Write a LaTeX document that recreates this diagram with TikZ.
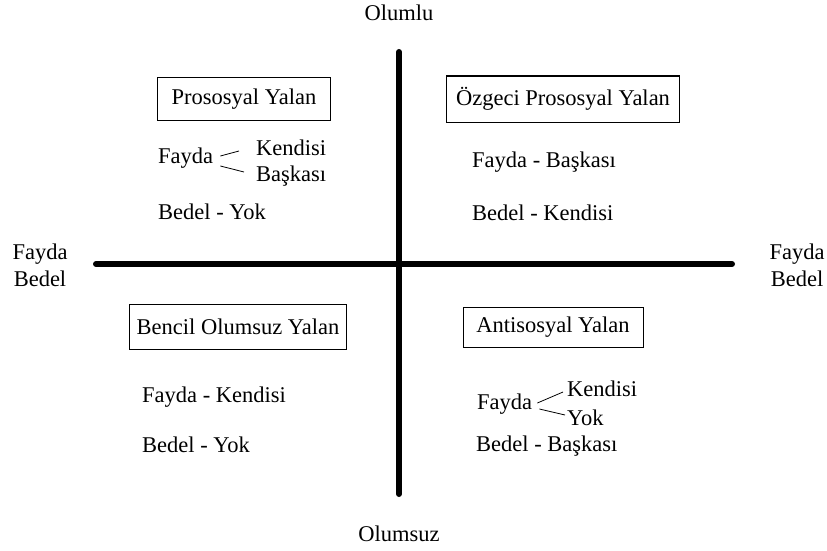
\documentclass[tikz,border=0pt]{standalone}
\usepackage{fontspec}
\setmainfont{Liberation Serif}
\begin{document}
\begin{tikzpicture}[x=1pt,y=-1pt,
  lbl/.style={font=\fontsize{22.5}{27}\selectfont, inner sep=0pt},
  ttl/.style={lbl, draw, line width=1pt},
  axis/.style={line width=6pt, line cap=round},
  br/.style={line width=0.8pt}]
\useasboundingbox (0,0) rectangle (827,551);
\coordinate (vt) at (399,52);
\coordinate (vb) at (399,494);
\coordinate (hl) at (96,264);
\coordinate (hr) at (732,264);
\draw[axis] (vt) -- (vb);
\draw[axis] (hl) -- (hr);
\node[lbl] (olumlu) at (399,13) {Olumlu};
\node[lbl] (olumsuz) at (399,534) {Olumsuz};
\node[lbl, align=center] (left) at (40,265) {Fayda\\Bedel};
\node[lbl, align=center] (right) at (797,265) {Fayda\\Bedel};
% quadrant titles
\node[ttl, minimum width=173pt, minimum height=43pt] (q1) at (244,99) {Prososyal Yalan};
\node[ttl, minimum width=233pt, minimum height=46pt] (q2) at (563,99) {Özgeci Prososyal Yalan};
\node[ttl, minimum width=217pt, minimum height=45pt] (q3) at (238,327) {Bencil Olumsuz Yalan};
\node[ttl, minimum width=180pt, minimum height=40pt] (q4) at (553,327) {Antisosyal Yalan};
% top-left
\node[lbl, anchor=west] (f1) at (158,158) {Fayda};
\node[lbl, anchor=west] (k1) at (256,148) {Kendisi};
\node[lbl, anchor=west] (b1) at (256,176) {Başkası};
\draw[br] ([xshift=7pt,yshift=2pt]f1.east) -- ([xshift=-17pt,yshift=-3pt]k1.west);
\draw[br] ([xshift=7pt,yshift=-8pt]f1.east) -- ([xshift=-12pt,yshift=4pt]b1.west);
\node[lbl, anchor=west] (bd1) at (158,212) {Bedel - Yok};
% top-right
\node[lbl, anchor=west] (f2) at (472,162) {Fayda - Başkası};
\node[lbl, anchor=west] (bd2) at (472,213) {Bedel - Kendisi};
% bottom-left
\node[lbl, anchor=west] (f3) at (142,397) {Fayda - Kendisi};
\node[lbl, anchor=west] (bd3) at (142,445) {Bedel - Yok};
% bottom-right
\node[lbl, anchor=west] (f4) at (477,404) {Fayda};
\node[lbl, anchor=west] (k4) at (567,389) {Kendisi};
\node[lbl, anchor=west] (y4) at (567,418) {Yok};
\draw[br] ([xshift=5pt,yshift=1pt]f4.east) -- ([xshift=-4pt,yshift=-3pt]k4.west);
\draw[br] ([xshift=7pt,yshift=-5pt]f4.east) -- ([xshift=-2pt,yshift=3pt]y4.west);
\node[lbl, anchor=west] (bd4) at (476,446) {Bedel - Başkası};
\end{tikzpicture}
\end{document}
